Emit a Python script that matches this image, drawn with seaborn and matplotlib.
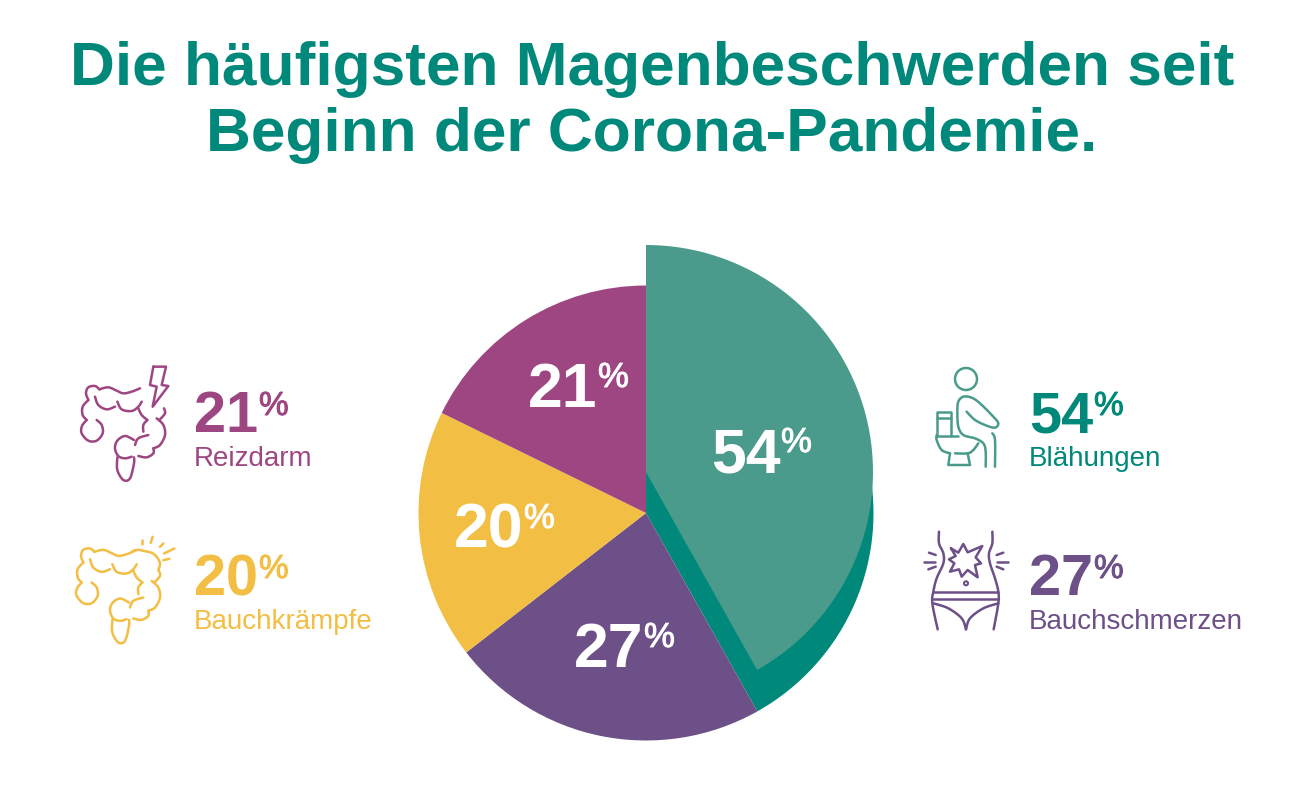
import numpy as np
import matplotlib
matplotlib.use("Agg")
import matplotlib.pyplot as plt
import matplotlib.patheffects as pe
from matplotlib.patches import Circle
import seaborn as sns

# values
labels = ["Blähungen", "Bauchschmerzen", "Bauchkrämpfe", "Reizdarm"]
percent = [54, 27, 20, 21]
# the pie is not drawn to scale, so the slice sizes are read off the picture (degrees)
slice_sizes = [150.7, 81.5, 63.9, 63.9]
title_lines = ["Die häufigsten Magenbeschwerden seit", "Beginn der Corona-Pandemie."]

TEAL = "#00897b"
TEAL_LIGHT = "#4a9b8c"
PURPLE = "#6d5087"
YELLOW = "#f2be43"
MAGENTA = "#9e4682"

sns.set_theme(style="white")
plt.rcParams["font.family"] = ["Liberation Sans", "DejaVu Sans"]
palette = sns.color_palette([TEAL, PURPLE, YELLOW, MAGENTA])

fig = plt.figure(figsize=(13, 8.09), dpi=100)
ax = fig.add_axes([0, 0, 1, 1])


def flip(y):
    return 809 - y


def smooth(pts, n=10):
    # catmull-rom through the points
    pts = np.array(pts, dtype=float)
    if len(pts) < 3:
        return pts
    p = np.vstack([pts[0], pts, pts[-1]])
    out = []
    for i in range(1, len(p) - 2):
        for t in np.linspace(0, 1, n, endpoint=False):
            a = 2 * p[i] + (p[i + 1] - p[i - 1]) * t
            b = (2 * p[i - 1] - 5 * p[i] + 4 * p[i + 1] - p[i + 2]) * t ** 2
            c = (-p[i - 1] + 3 * p[i] - 3 * p[i + 1] + p[i + 2]) * t ** 3
            out.append(0.5 * (a + b + c))
    out.append(pts[-1])
    return np.array(out)


def draw_icon(strokes, ox, oy, color, lw=1.8, curved=True):
    # strokes are in zoom pixels (3x) relative to the icon origin
    for s in strokes:
        xy = smooth(s) if curved else np.array(s, dtype=float)
        ax.plot(ox + xy[:, 0] / 3, flip(oy + xy[:, 1] / 3), color=color, lw=lw,
                solid_capstyle="round", solid_joinstyle="round")


def percent_sign(x, y, color, size):
    # the sign is a bit heavier than regular but lighter than bold
    t = ax.text(x, flip(y), "%", color=color, fontsize=size, ha="left", va="baseline")
    t.set_path_effects([pe.withStroke(linewidth=0.7, foreground=color)])


colon = [
    [(240, 115), (215, 125), (190, 130), (170, 122), (145, 112), (118, 118)],
    [(118, 118), (105, 108), (85, 112), (78, 130), (85, 150)],
    [(85, 150), (68, 170), (68, 195), (80, 210)],
    [(80, 210), (66, 228), (65, 250), (85, 272), (110, 272), (128, 250), (125, 225), (110, 210)],
    [(105, 140), (115, 165), (140, 178), (165, 170)],
    [(172, 155), (185, 178), (215, 183), (235, 170), (245, 155)],
    [(235, 175), (245, 195), (262, 210)],
    [(262, 210), (250, 225), (250, 245)],
    [(290, 205), (310, 225), (315, 255), (300, 285), (280, 295)],
    [(280, 295), (280, 310), (260, 322), (235, 318)],
    [(312, 175), (315, 190), (300, 208)],
    [(265, 255), (235, 265), (225, 285)],
    [(222, 270), (195, 258), (172, 272), (165, 295), (175, 318), (195, 325), (215, 320)],
    [(172, 322), (172, 360), (190, 390), (210, 385), (222, 340), (222, 322)],
]
bolt = [[(280, 50), (318, 50), (305, 105), (325, 108), (278, 170), (290, 110), (270, 105), (280, 50)]]
burst = [
    [(233, 115), (250, 112), (265, 115), (290, 121), (305, 133), (315, 153), (310, 173)],
]
rays = [
    [(262, 81), (262, 95)], [(293, 73), (287, 91)], [(325, 93), (315, 103)],
    [(358, 108), (327, 123)], [(343, 139), (325, 143)],
]
toilet = [
    [(155, 170), (180, 195), (215, 212), (240, 218), (250, 205), (235, 185), (195, 145),
     (170, 128), (145, 125), (130, 140), (127, 170), (130, 215), (145, 240), (180, 250),
     (205, 265), (212, 290), (212, 335)],
    [(232, 235), (240, 255), (240, 335)],
    [(65, 240), (65, 255), (80, 285), (105, 295)],
    [(120, 295), (158, 295), (175, 285), (190, 265)],
]
toilet_straight = [
    [(65, 243), (65, 170), (108, 170), (108, 243)],
    [(65, 190), (108, 190)],
    [(65, 243), (130, 243)],
    [(105, 295), (100, 330), (165, 330), (158, 295)],
]
belly = [
    [(72, 35), (72, 70), (85, 100), (85, 130), (65, 175), (55, 215), (52, 250), (68, 328)],
    [(232, 35), (232, 70), (222, 100), (225, 130), (240, 175), (250, 215), (250, 250), (236, 328)],
    [(55, 250), (100, 265), (140, 295), (153, 328)],
    [(250, 250), (205, 265), (165, 295), (153, 328)],
]
belly_straight = [
    [(55, 215), (250, 215)], [(52, 238), (250, 238)],
    [(108, 85), (130, 98), (145, 72), (158, 97), (202, 78), (182, 112), (198, 130), (180, 135),
     (188, 172), (158, 150), (140, 170), (132, 148), (105, 155), (118, 130), (102, 118),
     (122, 108), (108, 85)],
    [(42, 98), (62, 105)], [(28, 125), (60, 125)], [(40, 148), (62, 140)],
    [(245, 105), (265, 98)], [(245, 125), (278, 125)], [(245, 140), (265, 148)],
]

# pie: full circle first, then the lifted slice again on top of its dark copy
wedge_style = {"linewidth": 0}
ax.pie(slice_sizes, colors=palette, startangle=90, counterclock=False, radius=227.5,
       center=(646, flip(513)), frame=True, wedgeprops=wedge_style)
ax.pie(slice_sizes, colors=[TEAL_LIGHT, "none", "none", "none"], startangle=90,
       counterclock=False, radius=227, center=(646, flip(472)), frame=True,
       wedgeprops=wedge_style)

ax.set_xlim(0, 1300)
ax.set_ylim(0, 809)
ax.axis("off")

# title
for line, y in zip(title_lines, [85, 151]):
    ax.text(652, flip(y), line, color=TEAL, fontsize=44.8, fontweight="bold",
            ha="center", va="baseline")

# numbers on the slices
pie_pos = [(711, 472), (574, 667), (454, 548), (528, 407)]
for val, (x, y) in zip(percent, pie_pos):
    ax.text(x, flip(y), str(val), color="white", fontsize=45, fontweight="bold",
            ha="left", va="baseline")
    percent_sign(x + 70, y - 20, "white", 25)

# side legend
side_pos = [(1029, 432), (1029, 595), (194, 595), (194, 432)]
side_col = [TEAL, PURPLE, YELLOW, MAGENTA]
for val, lab, col, (x, y) in zip(percent, labels, side_col, side_pos):
    ax.text(x, flip(y), str(val), color=col, fontsize=41.5, fontweight="bold",
            ha="left", va="baseline")
    percent_sign(x + 65, y - 17, col, 24)
    ax.text(x, flip(y + 34), lab, color=col, fontsize=20, ha="left", va="baseline")

# icons
draw_icon(colon, 60, 350, MAGENTA)
draw_icon(bolt, 60, 350, MAGENTA, curved=False)
draw_icon(colon, 55, 512.5, YELLOW)
draw_icon(burst, 55, 512.5, YELLOW)
draw_icon(rays, 55, 512.5, YELLOW, curved=False)
draw_icon(toilet, 915, 355, TEAL_LIGHT)
draw_icon(toilet_straight, 915, 355, TEAL_LIGHT, curved=False)
ax.add_patch(Circle((966, flip(379)), 11, fill=False, ec=TEAL_LIGHT, lw=1.8))
draw_icon(belly, 915, 520, PURPLE)
draw_icon(belly_straight, 915, 520, PURPLE, curved=False)
ax.add_patch(Circle((966, flip(583.3)), 2, fill=False, ec=PURPLE, lw=1.5))

fig.savefig("out.png", dpi=100, facecolor="white")
